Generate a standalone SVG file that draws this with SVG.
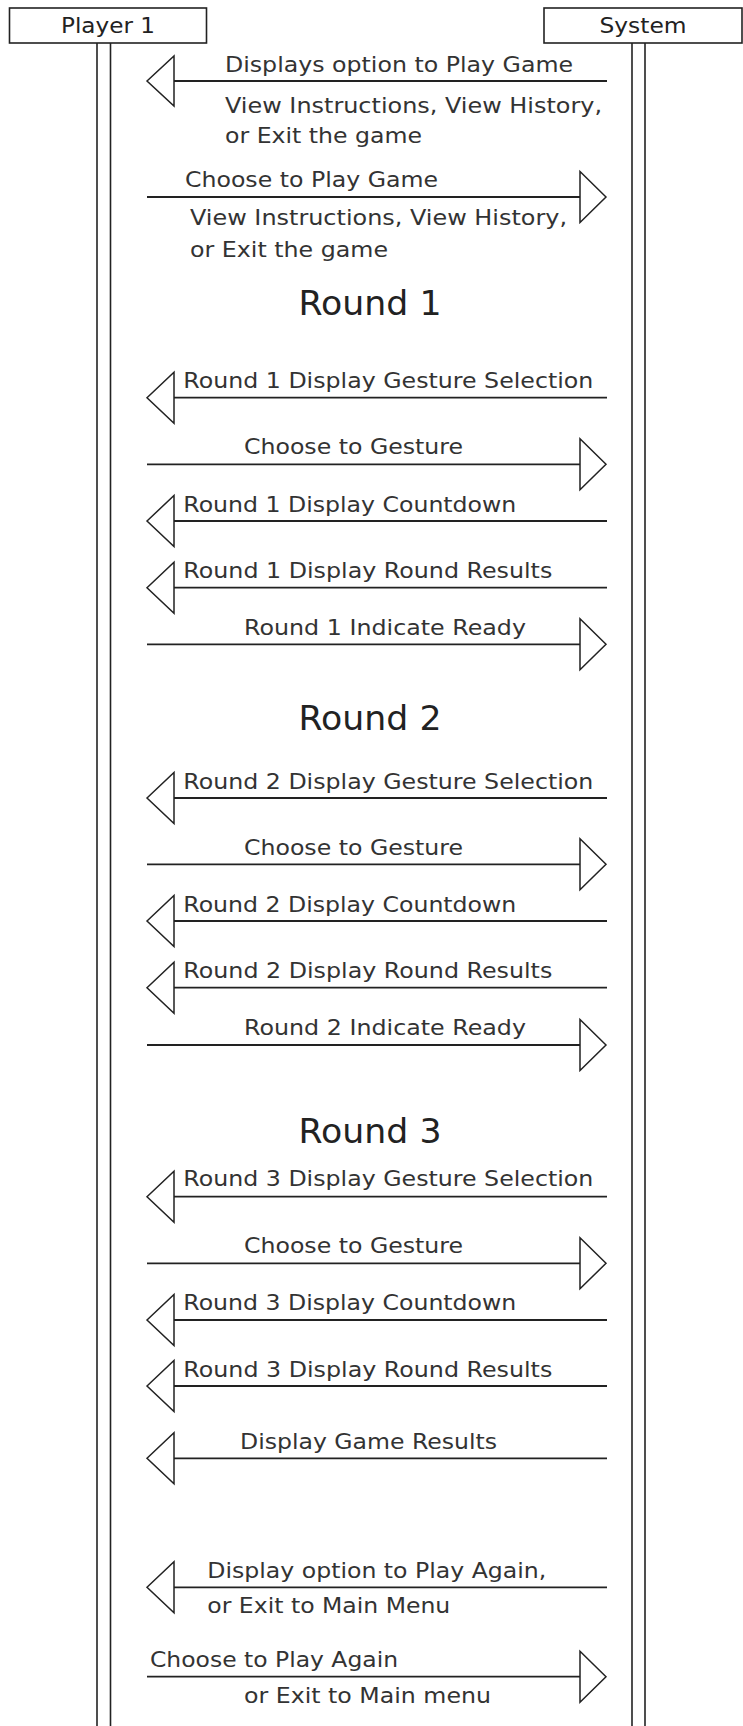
<svg xmlns="http://www.w3.org/2000/svg" width="743" height="1726" viewBox="0 0 743 1726">
<style>
.box{fill:#fff;stroke:#222;stroke-width:1.6}
.life{stroke:#222;stroke-width:1.6;fill:none}
.ln{stroke:#222;stroke-width:1.8;fill:none}
.hd{fill:#fff;stroke:#222;stroke-width:1.5;stroke-linejoin:miter}
text{font-family:"DejaVu Sans","Verdana",sans-serif;fill:#333}
.lb{font-size:21px}
.tt{font-size:33px;text-anchor:middle;fill:#222}
.hdr{font-size:21px;text-anchor:middle;fill:#222}
</style>
<rect width="743" height="1726" fill="#fff"/>
<g id="player1">
<rect class="box" x="9.5" y="8" width="197" height="35"/>
<text class="hdr" x="108" y="33" textLength="94" lengthAdjust="spacingAndGlyphs">Player 1</text>
<line class="life" x1="97" y1="43" x2="97" y2="1726"/>
<line class="life" x1="110.5" y1="43" x2="110.5" y2="1726"/>
</g>
<g id="system">
<rect class="box" x="544" y="8" width="198" height="35"/>
<text class="hdr" x="643" y="33" textLength="87" lengthAdjust="spacingAndGlyphs">System</text>
<line class="life" x1="632" y1="43" x2="632" y2="1726"/>
<line class="life" x1="645" y1="43" x2="645" y2="1726"/>
</g>
<g id="titles">
<text class="tt" x="370" y="315" textLength="143" lengthAdjust="spacingAndGlyphs">Round 1</text>
<text class="tt" x="370" y="730" textLength="143" lengthAdjust="spacingAndGlyphs">Round 2</text>
<text class="tt" x="370" y="1143" textLength="143" lengthAdjust="spacingAndGlyphs">Round 3</text>
</g>
<g id="connectors">
<g id="m1"><line class="ln" x1="174" y1="81" x2="607" y2="81"/><polygon class="hd" points="147,81 174,56 174,106"/></g>
<g id="m2"><line class="ln" x1="147" y1="197" x2="580" y2="197"/><polygon class="hd" points="606,197 580,171.5 580,222.5"/></g>
<g id="m3"><line class="ln" x1="174" y1="397.7" x2="607" y2="397.7"/><polygon class="hd" points="147,397.7 174,372.2 174,423.2"/></g>
<g id="m4"><line class="ln" x1="147" y1="464.3" x2="580" y2="464.3"/><polygon class="hd" points="606,464.3 580,438.8 580,489.8"/></g>
<g id="m5"><line class="ln" x1="174" y1="521" x2="607" y2="521"/><polygon class="hd" points="147,521 174,495.5 174,546.5"/></g>
<g id="m6"><line class="ln" x1="174" y1="587.7" x2="607" y2="587.7"/><polygon class="hd" points="147,587.7 174,562.2 174,613.2"/></g>
<g id="m7"><line class="ln" x1="147" y1="644.3" x2="580" y2="644.3"/><polygon class="hd" points="606,644.3 580,618.8 580,669.8"/></g>
<g id="m8"><line class="ln" x1="174" y1="798" x2="607" y2="798"/><polygon class="hd" points="147,798 174,772.5 174,823.5"/></g>
<g id="m9"><line class="ln" x1="147" y1="864.3" x2="580" y2="864.3"/><polygon class="hd" points="606,864.3 580,838.8 580,889.8"/></g>
<g id="m10"><line class="ln" x1="174" y1="921" x2="607" y2="921"/><polygon class="hd" points="147,921 174,895.5 174,946.5"/></g>
<g id="m11"><line class="ln" x1="174" y1="987.7" x2="607" y2="987.7"/><polygon class="hd" points="147,987.7 174,962.2 174,1013.2"/></g>
<g id="m12"><line class="ln" x1="147" y1="1045" x2="580" y2="1045"/><polygon class="hd" points="606,1045 580,1019.5 580,1070.5"/></g>
<g id="m13"><line class="ln" x1="174" y1="1196.7" x2="607" y2="1196.7"/><polygon class="hd" points="147,1196.7 174,1171.2 174,1222.2"/></g>
<g id="m14"><line class="ln" x1="147" y1="1263.3" x2="580" y2="1263.3"/><polygon class="hd" points="606,1263.3 580,1237.8 580,1288.8"/></g>
<g id="m15"><line class="ln" x1="174" y1="1320" x2="607" y2="1320"/><polygon class="hd" points="147,1320 174,1294.5 174,1345.5"/></g>
<g id="m16"><line class="ln" x1="174" y1="1386" x2="607" y2="1386"/><polygon class="hd" points="147,1386 174,1360.5 174,1411.5"/></g>
<g id="m17"><line class="ln" x1="174" y1="1458.3" x2="607" y2="1458.3"/><polygon class="hd" points="147,1458.3 174,1432.8 174,1483.8"/></g>
<g id="m18"><line class="ln" x1="174" y1="1587.3" x2="607" y2="1587.3"/><polygon class="hd" points="147,1587.3 174,1561.8 174,1612.8"/></g>
<g id="m19"><line class="ln" x1="147" y1="1676.7" x2="580" y2="1676.7"/><polygon class="hd" points="606,1676.7 580,1651.2 580,1702.2"/></g>
</g>
<g id="labels">
<text class="lb" x="225" y="72.3" textLength="348" lengthAdjust="spacingAndGlyphs">Displays option to Play Game</text>
<text class="lb" x="225" y="112.7" textLength="377" lengthAdjust="spacingAndGlyphs">View Instructions, View History,</text>
<text class="lb" x="225" y="143.3" textLength="197" lengthAdjust="spacingAndGlyphs">or Exit the game</text>
<text class="lb" x="185" y="186.5" textLength="253" lengthAdjust="spacingAndGlyphs">Choose to Play Game</text>
<text class="lb" x="190" y="225" textLength="377" lengthAdjust="spacingAndGlyphs">View Instructions, View History,</text>
<text class="lb" x="190" y="256.7" textLength="198" lengthAdjust="spacingAndGlyphs">or Exit the game</text>
<text class="lb" x="183.3" y="388.3" textLength="410" lengthAdjust="spacingAndGlyphs">Round 1 Display Gesture Selection</text>
<text class="lb" x="244" y="454" textLength="219" lengthAdjust="spacingAndGlyphs">Choose to Gesture</text>
<text class="lb" x="183.3" y="511.7" textLength="333" lengthAdjust="spacingAndGlyphs">Round 1 Display Countdown</text>
<text class="lb" x="183.3" y="578.3" textLength="369" lengthAdjust="spacingAndGlyphs">Round 1 Display Round Results</text>
<text class="lb" x="244" y="635" textLength="282" lengthAdjust="spacingAndGlyphs">Round 1 Indicate Ready</text>
<text class="lb" x="183.3" y="788.5" textLength="410" lengthAdjust="spacingAndGlyphs">Round 2 Display Gesture Selection</text>
<text class="lb" x="244" y="855" textLength="219" lengthAdjust="spacingAndGlyphs">Choose to Gesture</text>
<text class="lb" x="183.3" y="911.7" textLength="333" lengthAdjust="spacingAndGlyphs">Round 2 Display Countdown</text>
<text class="lb" x="183.3" y="978.3" textLength="369" lengthAdjust="spacingAndGlyphs">Round 2 Display Round Results</text>
<text class="lb" x="244" y="1035" textLength="282" lengthAdjust="spacingAndGlyphs">Round 2 Indicate Ready</text>
<text class="lb" x="183.3" y="1186" textLength="410" lengthAdjust="spacingAndGlyphs">Round 3 Display Gesture Selection</text>
<text class="lb" x="244" y="1253" textLength="219" lengthAdjust="spacingAndGlyphs">Choose to Gesture</text>
<text class="lb" x="183.3" y="1310" textLength="333" lengthAdjust="spacingAndGlyphs">Round 3 Display Countdown</text>
<text class="lb" x="183.3" y="1376.7" textLength="369" lengthAdjust="spacingAndGlyphs">Round 3 Display Round Results</text>
<text class="lb" x="240" y="1449.3" textLength="257" lengthAdjust="spacingAndGlyphs">Display Game Results</text>
<text class="lb" x="207.3" y="1578.3" textLength="339" lengthAdjust="spacingAndGlyphs">Display option to Play Again,</text>
<text class="lb" x="207.3" y="1613.3" textLength="243" lengthAdjust="spacingAndGlyphs">or Exit to Main Menu</text>
<text class="lb" x="150" y="1667.3" textLength="248" lengthAdjust="spacingAndGlyphs">Choose to Play Again</text>
<text class="lb" x="244" y="1703.3" textLength="247" lengthAdjust="spacingAndGlyphs">or Exit to Main menu</text>
</g>
</svg>
